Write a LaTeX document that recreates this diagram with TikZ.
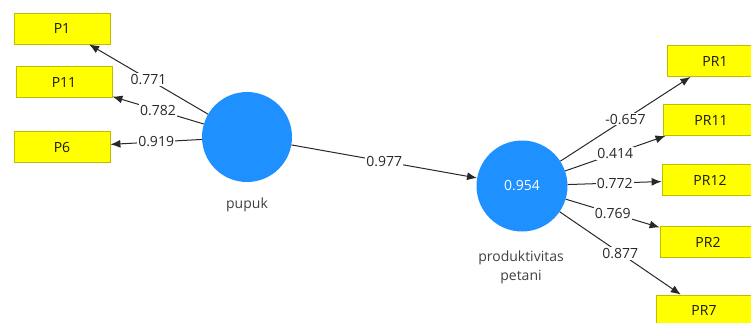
\documentclass[tikz,border=0pt]{standalone}
\usepackage{fontspec}
\setmainfont{Open Sans}
\usetikzlibrary{arrows.meta}

\definecolor{lvblue}{RGB}{30,144,255}
\definecolor{indyellow}{RGB}{255,255,0}
\definecolor{indborder}{RGB}{190,190,0}
\definecolor{pathgray}{RGB}{40,40,40}

\begin{document}
\begin{tikzpicture}[x=1pt,y=-1pt,
font=\fontsize{14}{16}\selectfont,
indicator/.style={rectangle,draw=indborder,fill=indyellow,line width=0.8pt,
	minimum width=96pt,minimum height=31pt,inner sep=0pt,text=black!90},
latent/.style={circle,fill=lvblue,minimum size=90pt,inner sep=0pt,text=white},
loading/.style={draw=pathgray,line width=1pt,-{Latex[length=10pt,width=8pt]}},
weight/.style={fill=white,inner sep=1.2pt,text=pathgray}]
\useasboundingbox (0,0) rectangle (751,322);
\clip (0,0) rectangle (751,322);
% latent variables
\node[latent] (pupuk) at (247,137) {};
\node[latent,minimum size=91pt] (prod) at (522,186) {0.954};
\node[text=black!75] (pupuklbl) at (247,205) {pupuk};
\node[text=black!75,align=center,font=\fontsize{14}{19}\selectfont] (prodlbl) at (521,267) {produktivitas\\petani};
% indicators of pupuk
\node[indicator] (p1) at (62,28.5) {P1};
\node[indicator] (p11) at (64,82) {P11};
\node[indicator] (p6) at (62,147) {P6};
% indicators of produktivitas petani
\node[indicator] (pr1) at (715,61) {PR1};
\node[indicator] (pr11) at (711,120) {PR11};
\node[indicator] (pr12) at (710,180) {PR12};
\node[indicator] (pr2) at (708,242) {PR2};
\node[indicator] (pr7) at (704,310.5) {PR7};
% paths
\draw[loading] (pupuk) -- node[weight]{0.771} (p1);
\draw[loading] (pupuk) -- node[weight]{0.782} (p11);
\draw[loading] (pupuk) -- node[weight]{0.919} (p6);
\draw[loading] (pupuk) -- node[weight]{0.977} (prod);
\draw[loading] (prod) -- node[weight]{-0.657} (pr1);
\draw[loading] (prod) -- node[weight]{0.414} (pr11);
\draw[loading] (prod) -- node[weight]{0.772} (pr12);
\draw[loading] (prod) -- node[weight]{0.769} (pr2);
\draw[loading] (prod) -- node[weight]{0.877} (pr7);
\end{tikzpicture}
\end{document}
